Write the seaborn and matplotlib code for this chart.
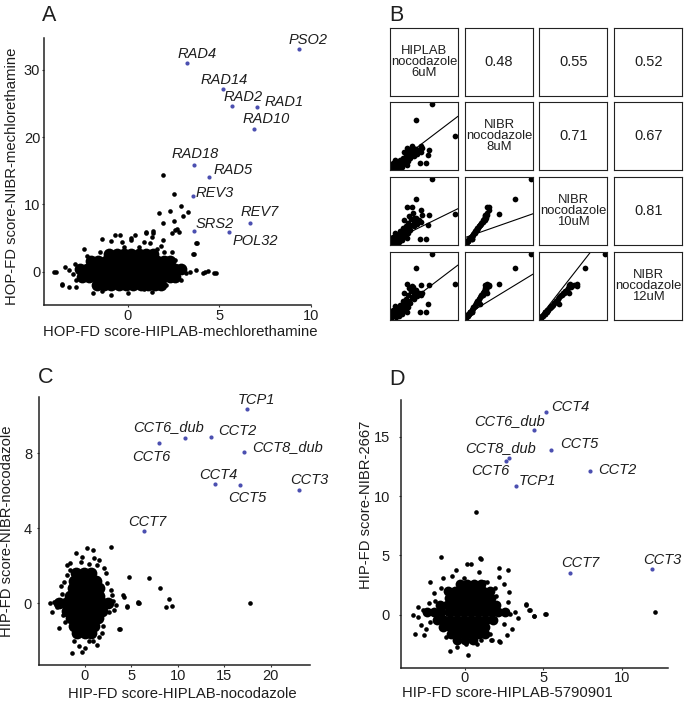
import numpy as np
import pandas as pd
import matplotlib
matplotlib.use("Agg")
import matplotlib.pyplot as plt
import seaborn as sns

sns.set_theme(style="white")
plt.rcParams["font.family"] = ["Liberation Sans", "DejaVu Sans"]

# ---------------- panel A: HOP-FD mechlorethamine ----------------
a_genes = ["PSO2", "RAD4", "RAD14", "RAD2", "RAD1", "RAD10",
           "RAD18", "RAD5", "REV3", "REV7", "SRS2", "POL32"]
a_gene_x = [9.35, 3.26, 5.18, 5.71, 7.03, 6.9, 3.64, 4.44, 3.57, 6.67, 3.59, 5.5]
a_gene_y = [33.0, 31.0, 27.1, 24.6, 24.5, 21.2, 15.9, 14.0, 11.2, 7.2, 6.1, 5.9]

# dense core of the cloud, row by row
a_core_row_y = [-2.0, -0.8, 0.4, 1.6, 2.6]
a_core_row_x = [
    [-1.7, -1.3, -0.9, -0.5, -0.1, 0.3, 0.7, 1.1, 1.5, 1.8],
    [-2.5, -2.1, -1.7, -1.3, -0.9, -0.5, -0.1, 0.3, 0.7, 1.1, 1.5, 1.9, 2.3, 2.6],
    [-2.6, -2.2, -1.8, -1.4, -1.0, -0.6, -0.2, 0.2, 0.6, 1.0, 1.4, 1.8, 2.2, 2.6, 2.9],
    [-2.0, -1.6, -1.2, -0.8, -0.4, 0.0, 0.4, 0.8, 1.2, 1.6, 2.0, 2.3],
    [-1.0, -0.6, -0.2, 0.2, 0.6, 1.0, 1.4],
]
# sparse points around the core and the outliers
a_other_x = [-3.9, -3.6, -3.4, -3.2, -2.4, -1.9, -0.9, -0.7, -0.3, 0.2, 0.4, 1.0,
             1.2, 1.4, 1.9, 2.0, 2.6, 2.8, 2.3, 3.0, 3.4, 4.1, 4.8, 2.7, 2.1, 0.9,
             0.0, -0.9, 3.8, 3.6, -1.4, -0.4, -2.8, 0.2, 4.2, -3.0, -3.2, 3.2,
             3.7, 4.4, -2.9, -2.8, 2.9, 2.6, -1.5, 0.6, 1.6, -2.2, 1.3, -1.4, 2.4,
             1.8, -0.2, 0.9,
             1.9, 2.5, 2.9, 3.3, 2.3, 1.7, 3.0, 2.5, 1.9, 2.7, 2.4, 3.75, 3.55,
             1.4, 1.0, 1.3, 4.7, -4.0, -3.6]
a_other_y = [0.0, -2.0, 0.7, -2.2, 3.4, -3.2, 4.5, 5.4, 4.4, 4.7, 5.4, 5.7,
             4.2, 6.0, 4.7, 3.0, 6.2, 5.9, 1.5, 0.5, 0.0, -0.2, -0.2, -0.7, -2.0, -2.5,
             -3.2, -3.4, 4.2, 2.7, 4.9, 5.4, -2.2, 5.0, 0.0, -0.3, 0.3, -0.2,
             0.2, 0.1, 1.2, -1.3, -1.2, 1.8, 3.0, 3.6, 3.4, 2.3, -3.0, -2.8, 2.9,
             3.8, 3.6, 4.4,
             14.4, 11.5, 9.75, 8.9, 9.0, 8.7, 8.2, 7.5, 7.3, 6.3, 5.8, 4.2, 2.7,
             5.8, 5.9, 5.1, -0.2, 0.0, -1.8]

# ---------------- panel C: HIP-FD nocodazole ----------------
c_genes = ["TCP1", "CCT6_dub", "CCT6", "CCT2", "CCT8_dub", "CCT4", "CCT5", "CCT3", "CCT7"]
c_gene_x = [17.4, 10.78, 7.97, 13.54, 17.13, 14.0, 16.7, 23.0, 6.36]
c_gene_y = [10.36, 8.8, 8.53, 8.85, 8.09, 6.36, 6.29, 6.04, 3.86]

c_core_row_y = [1.6, 1.2, 0.8, 0.4, 0.0, -0.4, -0.8, -1.2, -1.6]
c_core_row_x = [
    [-0.9, -0.1, 0.7],
    [-1.2, -0.4, 0.4, 1.2],
    [-1.3, -0.5, 0.3, 1.1, 1.5],
    [-1.6, -0.8, 0.0, 0.8, 1.5],
    [-2.8, -2.0, -1.2, -0.4, 0.4, 1.2, 1.9, 2.5],
    [-1.9, -1.1, -0.3, 0.5, 1.3, 1.8],
    [-1.5, -0.7, 0.1, 0.9, 1.4],
    [-1.2, -0.4, 0.4, 1.0],
    [-0.8, 0.0, 0.7],
]
c_other_x = [-1.37, -0.65, 0.07, 0.43, 1.33, 1.5, -2.8, -3.52, -3.7, -3.34, -2.27,
             -1.9, -1.55, -0.99, -0.27, 0.27, 0.83, 1.0, 1.53, 1.33, 2.77, 2.23,
             2.4, 2.77, 2.95, 3.13, 2.59, 4.2, 4.56, 4.74, 5.75, 3.67, 2.2, -2.4,
             -2.3, -2.1, -1.9, 2.0, 2.1, -1.2, 0.9, -0.4, 0.5, -2.6, -3.0, 3.0,
             1.8, -1.6, -0.3,
             4.13, 4.49, 5.7, 5.85, 6.9, 8.08, 9.05, 9.4, 8.7, 17.7, 3.77, 3.4]
c_other_y = [-2.67, -2.3, -2.4, -2.0, -2.2, -1.78, -1.33, -0.44, 0.0, 0.09, 1.16,
             2.04, 2.13, 2.67, 2.49, 2.93, 2.84, 2.4, 2.31, 2.04, 3.02, 1.6,
             1.1, 0.71, 0.44, -0.36, -0.45, 0.36, -0.18, 1.42, 0.05, -1.39, 0.0, 0.5,
             -0.6, -1.0, 1.5, -1.2, 1.9, -2.0, -2.0, 2.2, 2.1, 0.9, -0.2, 0.1,
             -1.6, 1.8, -2.6,
             0.42, -0.13, 0.0, 0.04, 1.36, 0.84, 0.25, -0.13, -0.22, 0.0, -1.39, -0.1]

# ---------------- panel D: HIP-FD 5790901 vs 2667 ----------------
d_genes = ["CCT4", "CCT6_dub", "CCT5", "CCT8_dub", "CCT6", "CCT2", "TCP1", "CCT7", "CCT3"]
d_gene_x = [5.15, 4.4, 5.49, 2.83, 2.6, 7.98, 3.25, 6.7, 11.95]
d_gene_y = [17.07, 15.56, 13.85, 13.2, 12.95, 12.14, 10.88, 3.56, 3.84]

d_core_row_y = [2.6, 2.0, 1.4, 0.8, 0.2, -0.4, -1.0, -1.6, -2.1]
d_core_row_x = [
    [-0.3, 0.15, 0.6, 1.05],
    [-1.1, -0.65, -0.2, 0.25, 0.7, 1.15, 1.6],
    [-1.05, -0.6, -0.15, 0.3, 0.75, 1.2, 1.65],
    [-1.6, -1.15, -0.7, -0.25, 0.2, 0.65, 1.1, 1.55, 2.0],
    [-2.4, -1.95, -1.5, -1.05, -0.6, -0.15, 0.3, 0.75, 1.2, 1.65, 2.1, 2.55],
    [-1.8, -1.35, -0.9, -0.45, 0.0, 0.45, 0.9, 1.35, 1.8],
    [-1.4, -0.95, -0.5, -0.05, 0.4, 0.85, 1.3],
    [-0.9, -0.45, 0.0, 0.45, 0.9, 1.3],
    [-0.5, 0.0, 0.5],
]
d_other_x = [-1.53, 0.98, 0.36, -0.57, 0.87, -2.21, -1.42, -0.85, -0.04, 1.23, 1.4,
             2.19, 2.51, -1.96, 2.8, 2.72, 3.89, 4.1, 4.42, 5.1, 3.36, -2.98, -3.34,
             -3.19, -2.6, -0.94, 0.17, 0.06, 0.77, 1.66, 2.19, 2.68, 3.0, -2.81,
             -3.0, 2.9, 3.2, -2.7, -2.2, 2.5, -1.9, -2.3, 1.9, -1.2, 1.6, 2.0,
             -1.5, 1.0, -0.5, -2.5,
             0.68, 12.15, 5.15, 4.42, 4.15, 3.9, 0.1, 1.0, 2.19, 2.23, 1.7, 2.76]
d_other_y = [4.85, 4.77, 4.28, 3.78, 3.6, 2.8, 3.08, 3.31, 3.08, 2.8, 2.8,
             3.17, 2.6, 1.87, 1.96, 1.12, 0.9, 0.42, -0.08, 0.08, -0.28, 0.7, 0.0,
             -1.63, -1.68, -3.08, -3.36, -2.5, -2.5, -2.1, -2.24, -1.68, -1.2, -0.87,
             -0.2, 0.1, 0.2, 0.4, -0.6, -0.8, 1.2, 1.0, 2.3, -1.9, -1.6, 1.6,
             2.3, -2.1, -2.7, -1.2,
             8.66, 0.28, 0.06, -0.08, 0.42, 0.84, 4.3, 4.7, 3.93, -2.25, -2.1, 3.8]

# ---------------- panel B: nocodazole replicate pairs ----------------
b_names = ["HIPLAB\nnocodazole\n6uM", "NIBR\nnocodazole\n8uM",
           "NIBR\nnocodazole\n10uM", "NIBR\nnocodazole\n12uM"]
b_hiplab6 = [0.02, 0.04, 0.06, 0.03, 0.08, 0.10, 0.07, 0.12, 0.14, 0.11, 0.16, 0.18, 0.05,
             0.20, 0.15, 0.22, 0.24, 0.19, 0.26, 0.28, 0.23, 0.30, 0.32, 0.27, 0.35, 0.36,
             0.31, 0.40, 0.09, 0.13, 0.17, 0.01, 0.25, 0.08, 0.20, 0.28, 0.34, 0.42, 0.38,
             0.45,
             0.62, 0.38, 0.96, 0.56, 0.44, 0.53, 0.25, 0.45, 0.58, 0.32, 0.47, 0.35]
b_nibr8 = [0.02, 0.03, 0.05, 0.06, 0.04, 0.07, 0.09, 0.06, 0.10, 0.12, 0.08, 0.12, 0.10,
           0.14, 0.15, 0.10, 0.16, 0.18, 0.13, 0.19, 0.21, 0.17, 0.22, 0.24, 0.20, 0.26,
           0.28, 0.24, 0.02, 0.03, 0.05, 0.08, 0.08, 0.14, 0.26, 0.30, 0.33, 0.29, 0.31,
           0.27,
           0.97, 0.73, 0.50, 0.22, 0.10, 0.10, 0.33, 0.36, 0.30, 0.35, 0.32, 0.30]
b_nibr10 = [0.03, 0.04, 0.06, 0.08, 0.05, 0.09, 0.11, 0.08, 0.13, 0.15, 0.10, 0.16, 0.12,
            0.18, 0.20, 0.13, 0.21, 0.24, 0.17, 0.25, 0.28, 0.22, 0.29, 0.32, 0.27, 0.35,
            0.38, 0.31, 0.03, 0.04, 0.07, 0.10, 0.10, 0.17, 0.36, 0.42, 0.47, 0.36, 0.40,
            0.33,
            0.96, 0.67, 0.45, 0.29, 0.09, 0.09, 0.56, 0.51, 0.44, 0.56, 0.44, 0.39]
b_nibr12 = [0.03, 0.05, 0.07, 0.09, 0.06, 0.10, 0.12, 0.09, 0.14, 0.17, 0.12, 0.18, 0.14,
            0.20, 0.22, 0.15, 0.24, 0.27, 0.19, 0.28, 0.31, 0.25, 0.33, 0.36, 0.30, 0.39,
            0.42, 0.35, 0.04, 0.05, 0.08, 0.11, 0.12, 0.20, 0.40, 0.46, 0.48, 0.40, 0.44,
            0.37,
            0.97, 0.76, 0.53, 0.23, 0.11, 0.11, 0.53, 0.51, 0.51, 0.50, 0.40, 0.42]
b_corr_row = [0, 0, 0, 1, 1, 2]
b_corr_col = [1, 2, 3, 2, 3, 3]
b_corr_val = [0.48, 0.55, 0.52, 0.71, 0.67, 0.81]
# fitted lines in the lower panels (row, col, intercept, slope)
b_fit_row = [1, 2, 3, 2, 3, 3]
b_fit_col = [0, 0, 0, 1, 1, 2]
b_fit_icpt = [0.03, 0.04, 0.044, 0.105, 0.06, 0.03]
b_fit_slope = [0.76, 0.49, 0.76, 0.35, 0.61, 1.28]

BLUE = "#4b4fb0"
INK = "#1e1e1e"
W, H = 685, 702

fig = plt.figure(figsize=(W / 100, H / 100), dpi=100)


def px_axes(left, top, right, bottom):
    return fig.add_axes([left / W, 1 - bottom / H, (right - left) / W, (bottom - top) / H])


def rows_to_df(row_y, row_x):
    xs, ys = [], []
    for y, xr in zip(row_y, row_x):
        xs += xr
        ys += [y] * len(xr)
    return pd.DataFrame({"x": xs, "y": ys})


def scatter_panel(ax, core, other, genes, gx, gy, offsets, xlim, ylim, xticks, yticks,
                  xlabel, ylabel, xl_pos, yl_pos, xpad, ypad, core_s=72):
    sns.scatterplot(data=core, x="x", y="y", s=core_s, color="black", linewidth=0,
                    legend=False, ax=ax)
    sns.scatterplot(data=other, x="x", y="y", s=11, color="black", linewidth=0,
                    legend=False, ax=ax)
    gdf = pd.DataFrame({"gene": genes, "x": gx, "y": gy})
    sns.scatterplot(data=gdf, x="x", y="y", s=9, color=BLUE, linewidth=0,
                    legend=False, ax=ax)
    for g, x, y in zip(genes, gx, gy):
        ax.annotate(g, (x, y), xytext=offsets[g], textcoords="offset pixels",
                    ha="center", va="center", fontstyle="italic", fontsize=10.5, color=INK)
    ax.set_xlim(*xlim)
    ax.set_ylim(*ylim)
    ax.set_xticks(xticks)
    ax.set_yticks(yticks)
    ax.tick_params(axis="both", length=1.5, width=0.8, colors="#333333", labelsize=10.5,
                   labelcolor=INK, left=True, bottom=True)
    ax.tick_params(axis="x", pad=xpad)
    ax.tick_params(axis="y", pad=ypad)
    for s in ["top", "right"]:
        ax.spines[s].set_visible(False)
    for s in ["left", "bottom"]:
        ax.spines[s].set_linewidth(1.1)
        ax.spines[s].set_color("#222222")
    ax.set_xlabel(xlabel, fontsize=10.7, color=INK)
    ax.set_ylabel(ylabel, fontsize=10.7, color=INK)
    ax.xaxis.set_label_coords(*xl_pos)
    ax.yaxis.set_label_coords(*yl_pos)


# panel A
axA = px_axes(44, 38, 311, 305)
a_off = {"PSO2": (9, 9), "RAD4": (10, 9), "RAD14": (1, 9), "RAD2": (11, 9),
         "RAD1": (28, 5), "RAD10": (12, 10), "RAD18": (1, 11), "RAD5": (24, 7),
         "REV3": (22, 3), "REV7": (10, 11), "SRS2": (21, 7), "POL32": (27, -9)}
scatter_panel(axA, rows_to_df(a_core_row_y, a_core_row_x),
              pd.DataFrame({"x": a_other_x, "y": a_other_y}),
              a_genes, a_gene_x, a_gene_y, a_off,
              (-4.57, 9.95), (-4.94, 34.7), [0, 5, 10], [0, 10, 20, 30],
              "HOP-FD score-HIPLAB-mechlorethamine", "HOP-FD score-NIBR-mechlorethamine",
              (0.51, -0.075), (-0.094, 0.483), 1.6, 1.2)

# panel C
axC = px_axes(39, 397, 310, 665)
c_off = {"TCP1": (10, 9), "CCT6_dub": (-17, 11), "CCT6": (-8, -14), "CCT2": (27, 6),
         "CCT8_dub": (43, 5), "CCT4": (3, 9), "CCT5": (7, -13), "CCT3": (10, 10),
         "CCT7": (3, 9)}
scatter_panel(axC, rows_to_df(c_core_row_y, c_core_row_x),
              pd.DataFrame({"x": c_other_x, "y": c_other_y}),
              c_genes, c_gene_x, c_gene_y, c_off,
              (-4.92, 24.2), (-3.29, 11.0), [0, 5, 10, 15, 20], [0, 4, 8],
              "HIP-FD score-HIPLAB-nocodazole", "HIP-FD score-NIBR-nocodazole",
              (0.53, -0.083), (-0.094, 0.5), 1.6, 3.5)

# panel D
axD = px_axes(401, 400, 668, 668)
d_off = {"CCT4": (25, 5), "CCT6_dub": (-24, 9), "CCT5": (28, 6), "CCT8_dub": (-9, 10),
         "CCT6": (-15, -10), "CCT2": (27, 1), "TCP1": (21, 5), "CCT7": (10, 10),
         "CCT3": (10, 9)}
scatter_panel(axD, rows_to_df(d_core_row_y, d_core_row_x),
              pd.DataFrame({"x": d_other_x, "y": d_other_y}),
              d_genes, d_gene_x, d_gene_y, d_off,
              (-4.08, 12.95), (-4.48, 18.1), [0, 5, 10], [0, 5, 10, 15],
              "HIP-FD score-HIPLAB-5790901", "HIP-FD score-NIBR-2667",
              (0.40, -0.066), (-0.103, 0.61), 0.4, 6.5, core_s=50)

# panel B: pairs matrix
b_df = pd.DataFrame({"v0": b_hiplab6, "v1": b_nibr8, "v2": b_nibr10, "v3": b_nibr12})
col_left = [390, 465, 539.3, 614.3]
row_top = [27.7, 102, 176.7, 251.7]
box = 68
grid = {}
for i in range(4):
    for j in range(4):
        ax = px_axes(col_left[j], row_top[i], col_left[j] + box, row_top[i] + box)
        ax.set_xlim(0, 1)
        ax.set_ylim(0, 1)
        ax.set_xticks([])
        ax.set_yticks([])
        for s in ax.spines.values():
            s.set_visible(True)
            s.set_linewidth(0.8)
            s.set_color("#222222")
        ax.set_facecolor("white")
        grid[(i, j)] = ax
        if i == j:
            ax.text(0.5, 0.5, b_names[i], ha="center", va="center", fontsize=9.4,
                    linespacing=0.88, color=INK, transform=ax.transAxes, clip_on=False)
        elif i > j:
            sns.scatterplot(data=b_df, x=f"v{j}", y=f"v{i}", s=17, color="black",
                            linewidth=0, legend=False, ax=ax)
            ax.set_xlabel("")
            ax.set_ylabel("")

for r, c, v in zip(b_corr_row, b_corr_col, b_corr_val):
    grid[(r, c)].text(0.5, 0.5, f"{v:.2f}", ha="center", va="center", fontsize=10.5,
                      color=INK, transform=grid[(r, c)].transAxes)

for r, c, b0, b1 in zip(b_fit_row, b_fit_col, b_fit_icpt, b_fit_slope):
    grid[(r, c)].axline((0, b0), slope=b1, color="black", linewidth=0.8)

# panel letters
for letter, x, y in [("A", 42, 21), ("B", 389, 21), ("C", 38, 383), ("D", 389, 385)]:
    fig.text(x / W, 1 - y / H, letter, fontsize=15.5, color=INK, va="baseline", ha="left")

fig.savefig("out.png", dpi=100)
